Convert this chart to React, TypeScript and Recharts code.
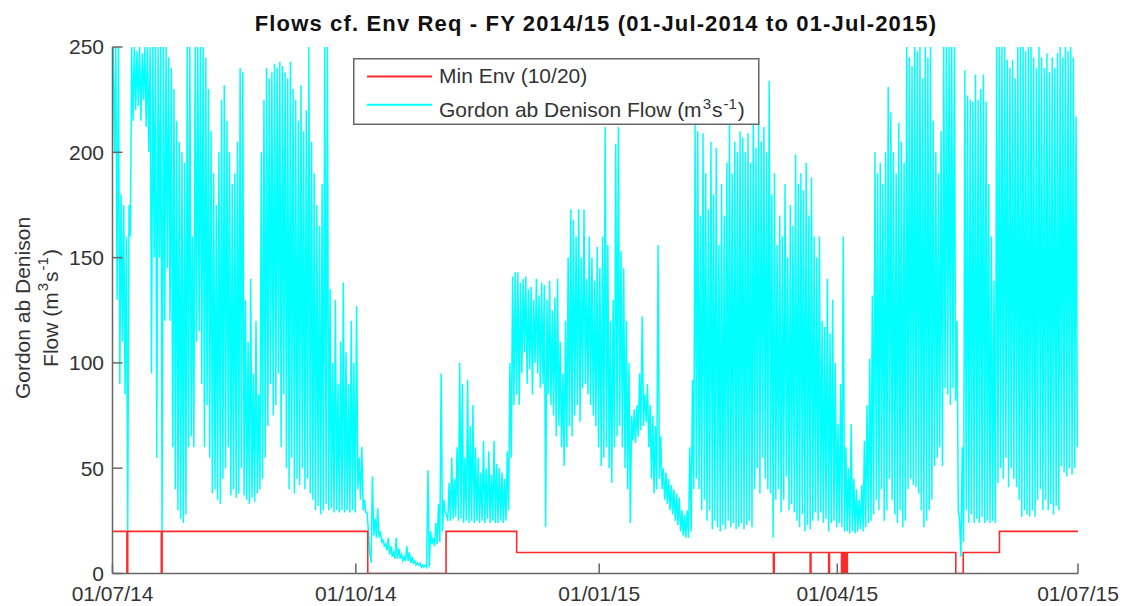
import React from 'react';
import { LineChart, Line, XAxis, YAxis, Legend } from 'recharts';

// x axis: days since 01-Jul-2014
const xTickDays = [0, 92, 184, 274, 365];
const xTickLabels = ['01/07/14', '01/10/14', '01/01/15', '01/04/15', '01/07/15'];
const yTicks = [0, 50, 100, 150, 200, 250];

// Gordon ab Denison flow: daily high and low (m3/s), day 0..364
const flowDailyHigh = [
  250, 250, 250, 180, 175, 160, 175, 250, 250, 248,
  250, 247, 250, 250, 250, 250, 250, 250, 250, 250,
  250, 245, 240, 230, 215, 205, 200, 195, 250, 250,
  160, 250, 250, 250, 250, 245, 230, 210, 190, 175,
  200, 225, 232, 215, 200, 185, 190, 205, 240, 238,
  130, 110, 140, 95, 120, 85, 200, 225, 240, 235,
  238, 242, 240, 243, 241, 238, 235, 243, 230, 225,
  215, 232, 210, 220, 250, 205, 190, 175, 165, 185,
  250, 250, 135, 100, 130, 90, 110, 138, 105, 90,
  120, 100, 127, 55, 60, 35, 29, 10, 46, 26,
  31, 20, 16, 14, 17, 13, 10, 17, 12, 9,
  8, 13, 10, 8, 6, 5, 5, 4, 4, 49,
  20, 17, 24, 33, 95, 35, 28, 43, 55, 45,
  60, 100, 90, 55, 92, 70, 80, 60, 55, 48,
  63, 50, 58, 47, 63, 52, 50, 48, 45, 58,
  100, 141, 143, 143, 138, 140, 141, 135, 136, 130,
  140, 132, 138, 137, 130, 139, 125, 131, 140, 110,
  95, 120, 150, 173, 168, 160, 173, 150, 173, 140,
  160, 150, 139, 155, 145, 160, 212, 156, 120, 130,
  204, 212, 153, 145, 120, 100, 75, 78, 80, 95,
  122, 85, 90, 80, 75, 70, 156, 65, 50, 48,
  45, 42, 40, 38, 36, 30, 28, 30, 60, 92,
  214, 210, 170, 209, 190, 173, 205, 180, 202, 156,
  185, 170, 195, 214, 190, 205, 200, 210, 207, 200,
  209, 195, 219, 202, 215, 205, 212, 200, 234, 180,
  190, 156, 170, 160, 185, 150, 175, 165, 199, 185,
  190, 182, 195, 170, 188, 160, 150, 160, 120, 117,
  140, 114, 130, 100, 71, 90, 160, 60, 50, 71,
  45, 40, 35, 42, 63, 80, 102, 132, 200, 190,
  195, 185, 200, 231, 219, 200, 190, 214, 205, 195,
  250, 245, 241, 250, 248, 250, 235, 250, 245, 250,
  215, 200, 190, 210, 250, 250, 250, 250, 250, 120,
  25, 60, 239, 227, 225, 224, 237, 225, 230, 237,
  224, 185, 160, 139, 250, 250, 250, 250, 244, 240,
  244, 235, 250, 250, 250, 248, 250, 250, 245, 240,
  250, 245, 240, 247, 238, 245, 240, 247, 250, 245,
  250, 248, 250, 245, 217,
];

const flowDailyLow = [
  200, 130, 90, 110, 85, 20, 160, 215, 220, 222,
  215, 225, 212, 200, 95, 150, 55, 150, 17, 120,
  145, 120, 60, 40, 30, 26, 24, 28, 60, 65,
  60, 110, 115, 90, 60, 80, 55, 38, 40, 35,
  33, 45, 50, 60, 37, 40, 36, 38, 50, 37,
  35, 33, 36, 34, 38, 40, 45, 55, 70, 90,
  75, 80, 95, 60, 85, 50, 40, 55, 38, 45,
  42, 50, 40, 45, 38, 35, 30, 32, 28, 30,
  33, 30, 31, 29, 30, 29, 30, 29, 30, 29,
  30, 29, 40, 35, 30, 29, 20, 5, 18, 17,
  17, 15, 13, 11, 9, 8, 7, 7, 7, 6,
  6, 6, 5, 5, 4, 4, 3, 3, 3, 3,
  14, 13, 14, 15, 20, 29, 25, 25, 26, 27,
  25, 26, 24, 25, 24, 25, 24, 25, 24, 25,
  24, 26, 24, 25, 24, 24, 25, 24, 25, 30,
  55, 80, 85, 80, 95, 105, 90, 97, 85, 100,
  95, 88, 90, 22, 85, 80, 75, 65, 70, 60,
  51, 60, 70, 65, 75, 80, 72, 88, 90, 85,
  80, 75, 70, 60, 51, 55, 60, 50, 43, 60,
  65, 70, 60, 50, 40, 24, 63, 62, 65, 68,
  70, 72, 60, 45, 38, 40, 45, 40, 35, 33,
  30, 28, 25, 23, 20, 18, 17, 17, 20, 40,
  45, 40, 30, 35, 25, 30, 21, 25, 22, 20,
  23, 21, 25, 22, 24, 21, 22, 24, 21, 23,
  25, 22, 40, 50, 38, 55, 45, 40, 38, 17,
  35, 40, 29, 35, 46, 30, 33, 29, 25, 22,
  28, 20, 23, 21, 25, 29, 25, 29, 24, 26,
  20, 24, 25, 22, 24, 22, 20, 20, 19, 20,
  19, 20, 21, 20, 22, 24, 25, 28, 35, 30,
  40, 25, 30, 45, 35, 28, 24, 30, 22, 25,
  40, 45, 42, 41, 38, 30, 22, 25, 30, 35,
  51, 55, 60, 51, 88, 85, 80, 88, 82, 30,
  8, 15, 30, 24, 28, 24, 26, 24, 27, 24,
  25, 24, 25, 24, 43, 50, 45, 55, 41, 50,
  45, 41, 35, 27, 30, 28, 27, 30, 27, 35,
  40, 30, 35, 30, 33, 28, 32, 30, 51, 48,
  46, 50, 47, 50, 60,
];

// Min Env requirement (10/20): change days and level from that day on
const envChangeDays = [
  0, 5.45, 5.75, 18.45, 18.75, 96.5, 126.1, 152.8, 249.85, 250.15,
  263.75, 264.05, 270.75, 271.05, 275.6, 275.8, 276.0, 276.2, 276.4, 276.6,
  276.8, 277.0, 277.2, 277.4, 277.6, 277.8, 278.0, 318.8, 321.6, 335.3, 365,
];
const envLevels = [
  20, 0, 20, 0, 20, 0, 20, 10, 0, 10,
  0, 10, 0, 10, 0, 10, 0, 10, 0, 10,
  0, 10, 0, 10, 0, 10, 10, 0, 10, 20, 20,
];

const flowData = flowDailyHigh.flatMap((h, d) => [
  { t: d + 0.25, flow: h },
  { t: d + 0.75, flow: flowDailyLow[d] },
]);
const envData = envChangeDays.map((d, i) => ({ t: d, env: envLevels[i] }));

const FONT = 'Liberation Sans, Arial, Helvetica, sans-serif';
const AXIS = '#666666';
const TEXT = '#333333';

const legendOrder = ['env', 'flow'];

const EmptyTick = () => <g />;

const UnitText = () => (
  <>
    <tspan dx={1} dy={-8} fontSize={15}>3</tspan>
    <tspan dx={1} dy={8}>s</tspan>
    <tspan dx={1} dy={-8} fontSize={15}>-1</tspan>
    <tspan dx={1} dy={8}>)</tspan>
  </>
);

const renderLegend = (props: any) => {
  const payload = [...(props.payload || [])].sort(
    (a: any, b: any) => legendOrder.indexOf(a.dataKey) - legendOrder.indexOf(b.dataKey)
  );
  const lineY = [18.5, 46.8];
  const textY = [25.2, 58.5];
  return (
    <svg width={407} height={69} style={{ display: 'block', fontFamily: FONT }}>
      <rect x={0.75} y={0.75} width={405} height={65.5} fill="#fff" stroke={AXIS} strokeWidth={1.5} />
      {payload.map((p: any, i: number) => (
        <g key={p.dataKey}>
          <line x1={14} x2={79} y1={lineY[i]} y2={lineY[i]} stroke={p.color} strokeWidth={2} />
          <text x={86} y={textY[i]} fontSize={21} fill={TEXT}>
            {p.dataKey === 'flow' ? (
              <>
                Gordon ab Denison Flow (m
                <UnitText />
              </>
            ) : (
              'Min Env (10/20)'
            )}
          </text>
        </g>
      ))}
    </svg>
  );
};

const renderYLabel = () => (
  <g>
    <text
      x={22}
      y={308}
      transform="rotate(-90 22 308)"
      textAnchor="middle"
      dominantBaseline="central"
      fontSize={21}
      fill={TEXT}
      fontFamily={FONT}
    >
      Gordon ab Denison
    </text>
    <text
      x={50}
      y={308}
      transform="rotate(-90 50 308)"
      textAnchor="middle"
      dominantBaseline="central"
      fontSize={21}
      fill={TEXT}
      fontFamily={FONT}
    >
      Flow (m
      <UnitText />
    </text>
  </g>
);

export default function App() {
  return (
    <div
      style={{
        position: 'absolute',
        left: 0,
        top: 0,
        width: 1122,
        height: 606,
        background: '#fff',
        fontFamily: FONT,
        overflow: 'hidden',
      }}
    >
      <div
        style={{
          position: 'absolute',
          left: 0,
          top: 13,
          width: 1192,
          textAlign: 'center',
          fontSize: 22,
          lineHeight: '22px',
          fontWeight: 'bold',
          letterSpacing: '1.15px',
          color: '#111',
          zIndex: 2,
        }}
      >
        Flows cf. Env Req - FY 2014/15 (01-Jul-2014 to 01-Jul-2015)
      </div>
      <LineChart width={1122} height={606} margin={{ top: 47, right: 44, bottom: 2, left: 0 }}>
        <XAxis
          xAxisId="b"
          dataKey="t"
          type="number"
          domain={[0, 365]}
          ticks={xTickDays}
          interval={0}
          tickFormatter={(v: number) => xTickLabels[xTickDays.indexOf(v)]}
          height={30.5}
          tickSize={-10}
          tickMargin={22.5}
          stroke={AXIS}
          strokeWidth={1.5}
          tick={{ fill: TEXT, fontSize: 21, fontFamily: FONT }}
          allowDataOverflow
        />
        <XAxis
          xAxisId="t"
          orientation="top"
          dataKey="t"
          type="number"
          domain={[0, 365]}
          ticks={xTickDays}
          interval={0}
          height={0}
          tickSize={-10}
          tick={EmptyTick}
          stroke={AXIS}
          strokeWidth={1.5}
          allowDataOverflow
        />
        <YAxis
          yAxisId="l"
          type="number"
          domain={[0, 250]}
          ticks={yTicks}
          interval={0}
          width={112.5}
          tickSize={-10}
          tickMargin={18.5}
          stroke={AXIS}
          strokeWidth={1.5}
          tick={{ fill: TEXT, fontSize: 21, fontFamily: FONT }}
          label={{ content: renderYLabel }}
          allowDataOverflow
        />
        <YAxis
          yAxisId="r"
          orientation="right"
          type="number"
          domain={[0, 250]}
          ticks={yTicks}
          interval={0}
          width={0}
          tickSize={-10}
          tick={EmptyTick}
          stroke={AXIS}
          strokeWidth={1.5}
          allowDataOverflow
        />
        <Legend
          layout="horizontal"
          align="center"
          verticalAlign="middle"
          content={renderLegend}
          wrapperStyle={{ left: 353, top: 57.5, width: 407, height: 69 }}
        />
        <Line
          xAxisId="b"
          yAxisId="l"
          data={flowData}
          dataKey="flow"
          name="Gordon ab Denison Flow (m³s⁻¹)"
          type="linear"
          stroke="#00ffff"
          strokeWidth={1.5}
          dot={false}
          activeDot={false}
          isAnimationActive={false}
        />
        <Line
          xAxisId="b"
          yAxisId="l"
          data={envData}
          dataKey="env"
          name="Min Env (10/20)"
          type="stepAfter"
          stroke="#ff2a2a"
          strokeWidth={1.6}
          dot={false}
          activeDot={false}
          isAnimationActive={false}
        />
      </LineChart>
    </div>
  );
}
